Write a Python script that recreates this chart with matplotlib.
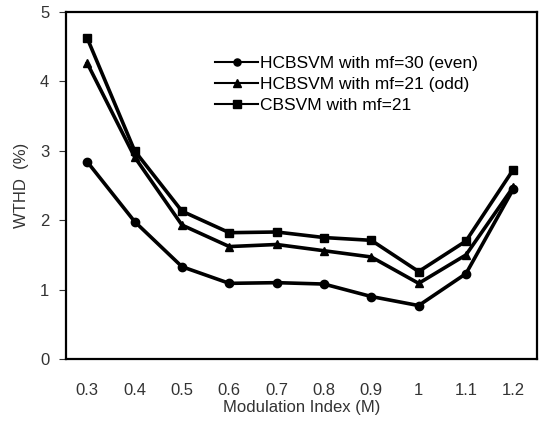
import matplotlib
matplotlib.use('Agg')
import matplotlib.pyplot as plt

plt.rcParams['font.family'] = ['Liberation Sans', 'DejaVu Sans']

# indice de modulacao (eixo x)
modulacao = ['0.3', '0.4', '0.5', '0.6', '0.7', '0.8', '0.9', '1', '1.1', '1.2']

# WTHD (%) de cada metodo
hcbsvm_par = [2.84, 1.98, 1.33, 1.09, 1.10, 1.08, 0.90, 0.77, 1.23, 2.45]
hcbsvm_impar = [4.26, 2.91, 1.93, 1.62, 1.65, 1.56, 1.47, 1.09, 1.50, 2.48]
cbsvm = [4.62, 3.00, 2.13, 1.82, 1.83, 1.75, 1.71, 1.26, 1.70, 2.73]

fig = plt.figure(figsize=(5.4, 4.21), dpi=100)
ax = fig.add_axes([66/540, 1 - 359/421, (537-66)/540, (359-12)/421])

x = range(len(modulacao))
ax.plot(x, hcbsvm_par, color='black', lw=2.6, marker='o', ms=6,
        label='HCBSVM with mf=30 (even)')
ax.plot(x, hcbsvm_impar, color='black', lw=2.6, marker='^', ms=6,
        label='HCBSVM with mf=21 (odd)')
ax.plot(x, cbsvm, color='black', lw=2.6, marker='s', ms=6,
        label='CBSVM with mf=21')

ax.set_xlim(-0.45, 9.5)
ax.set_ylim(0, 5)
ax.set_xticks(list(x))
ax.set_xticklabels(modulacao)
ax.set_yticks([0, 1, 2, 3, 4, 5])
ax.tick_params(axis='x', length=0, pad=17, labelsize=12, colors='#333333')
ax.tick_params(axis='y', length=5, width=0.8, direction='out', pad=7,
               labelsize=12, colors='#333333')
for s in ax.spines.values():
    s.set_linewidth(1.6)

ax.set_xlabel('Modulation Index (M)', fontsize=12, color='#333333', labelpad=2)
ax.set_ylabel('WTHD  (%)', fontsize=12, color='#333333', labelpad=8)

leg = ax.legend(loc='upper left', bbox_to_anchor=(0.316, 0.873), frameon=False,
                fontsize=12.5, handlelength=2.5, handletextpad=0.1,
                labelspacing=0.32, borderpad=0, borderaxespad=0,
                markerscale=0.85)
for h in leg.get_lines():
    h.set_linewidth(1.5)

fig.savefig('out.png', dpi=100)
